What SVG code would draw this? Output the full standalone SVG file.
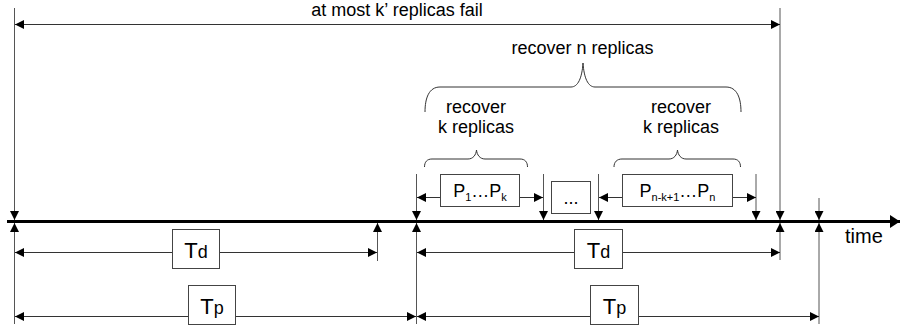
<svg xmlns="http://www.w3.org/2000/svg" width="900" height="329" viewBox="0 0 900 329">
<style>
.v{stroke:#555;stroke-width:1;fill:none}
.h{stroke:#333;stroke-width:1;fill:none}
.arr{marker-end:url(#a)}
.both{marker-start:url(#a);marker-end:url(#a)}
.box{fill:#fff;stroke:#444;stroke-width:1}
.br{stroke:#333;stroke-width:1;fill:none}
text{font-family:"Liberation Sans",Arial,sans-serif;fill:#000}
.t18{font-size:18px}
</style>
<defs>
<marker id="a" markerWidth="10" markerHeight="9" refX="9" refY="4.5" orient="auto-start-reverse" markerUnits="userSpaceOnUse"><path d="M0,0 L9,4.5 L0,9 z" fill="#000"/></marker>
<marker id="big" markerWidth="11" markerHeight="14" refX="10" refY="6.5" orient="auto" markerUnits="userSpaceOnUse"><path d="M0,0 L10,6.5 L0,13 z" fill="#000"/></marker>
</defs>

<g id="connectors">
<line x1="7" y1="221.5" x2="900" y2="221.5" stroke="#000" stroke-width="3" marker-end="url(#big)"/>
<line class="v arr" x1="14.5" y1="8" x2="14.5" y2="220"/>
<line class="v arr" x1="14.5" y1="324" x2="14.5" y2="223"/>
<line class="v arr" x1="416.5" y1="174" x2="416.5" y2="220"/>
<line class="v arr" x1="416.5" y1="324" x2="416.5" y2="223"/>
<line class="v arr" x1="780" y1="8" x2="780" y2="220"/>
<line class="v arr" x1="780" y1="260" x2="780" y2="223"/>
<line class="v arr" x1="819" y1="198" x2="819" y2="220"/>
<line class="v arr" x1="819" y1="324" x2="819" y2="223"/>
<line class="v arr" x1="377.5" y1="261" x2="377.5" y2="223"/>
<line class="v arr" x1="543.5" y1="174" x2="543.5" y2="220"/>
<line class="v arr" x1="598.5" y1="174" x2="598.5" y2="220"/>
<line class="v arr" x1="756" y1="174" x2="756" y2="220"/>
<line class="h both" x1="15" y1="24.5" x2="780" y2="24.5"/>
<line class="h both" x1="15" y1="252.5" x2="377" y2="252.5"/>
<line class="h both" x1="417" y1="252.5" x2="780" y2="252.5"/>
<line class="h both" x1="15" y1="316.5" x2="416" y2="316.5"/>
<line class="h both" x1="417" y1="316.5" x2="819" y2="316.5"/>
<line class="h both" x1="417" y1="197.5" x2="543" y2="197.5"/>
<line class="h both" x1="599" y1="197.5" x2="756" y2="197.5"/>
</g>

<g id="braces">
<path class="br" d="M425,112 C425,98 429,87 440,87 L571,87 C578,87 582,78 583,63 C584,78 588,87 595,87 L726,87 C737,87 741,98 741,112"/>
<path class="br" d="M424.5,167 C424.5,162 427,159 432,159 L468,159 C473,159 476,155 476.5,150 C477,155 480,159 485,159 L520,159 C525,159 527.5,162 527.5,167"/>
<path class="br" d="M614,167 C614,162 617,159 622,159 L669,159 C674,159 677,155 677.5,150 C678,155 681,159 686,159 L733,159 C738,159 740.5,162 740.5,167"/>
</g>

<g id="labels">
<text class="t18" x="397" y="16" text-anchor="middle">at most k’ replicas fail</text>
<text class="t18" x="582.5" y="54" text-anchor="middle">recover n replicas</text>
<text class="t18" x="476" y="113" text-anchor="middle">recover</text>
<text class="t18" x="476" y="133" text-anchor="middle">k replicas</text>
<text class="t18" x="681" y="113" text-anchor="middle">recover</text>
<text class="t18" x="681" y="133" text-anchor="middle">k replicas</text>
<text x="845" y="243" font-size="20">time</text>
</g>

<g id="node-p1">
<rect class="box" x="440.5" y="174.5" width="79" height="32"/>
<text x="480" y="197" text-anchor="middle" font-size="18">P<tspan font-size="11" dy="4">1</tspan><tspan dy="-4">…P</tspan><tspan font-size="11" dy="4">k</tspan></text>
</g>
<g id="node-dots">
<rect class="box" x="551.5" y="181.5" width="39" height="32"/>
<text x="571" y="204" text-anchor="middle" font-size="18">...</text>
</g>
<g id="node-pn">
<rect class="box" x="622.5" y="174.5" width="110" height="32"/>
<text x="677.5" y="197" text-anchor="middle" font-size="18">P<tspan font-size="11" dy="4">n-k+1</tspan><tspan dy="-4">…P</tspan><tspan font-size="11" dy="4">n</tspan></text>
</g>
<g id="node-td1">
<rect class="box" x="172.5" y="229.5" width="47" height="39"/>
<text x="196" y="257.5" text-anchor="middle" font-size="22">T<tspan font-size="18">d</tspan></text>
</g>
<g id="node-td2">
<rect class="box" x="574.5" y="229.5" width="48" height="39"/>
<text x="598.5" y="257.5" text-anchor="middle" font-size="22">T<tspan font-size="18">d</tspan></text>
</g>
<g id="node-tp1">
<rect class="box" x="188.5" y="285.5" width="47" height="39"/>
<text x="212" y="313.5" text-anchor="middle" font-size="22">T<tspan font-size="18">p</tspan></text>
</g>
<g id="node-tp2">
<rect class="box" x="590.5" y="285.5" width="48" height="39"/>
<text x="614.5" y="313.5" text-anchor="middle" font-size="22">T<tspan font-size="18">p</tspan></text>
</g>
</svg>
